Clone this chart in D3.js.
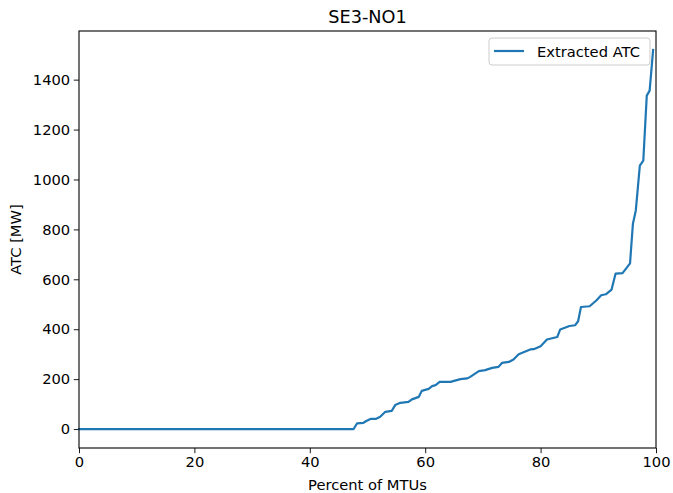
<!DOCTYPE html>
<html><head><meta charset="utf-8">
<script src="https://cdn.jsdelivr.net/npm/d3@7"></script>
<style>body{margin:0;background:#fff}svg{display:block;font-family:"DejaVu Sans",sans-serif}</style>
</head><body><svg id="c" width="673" height="493"></svg>
<script>
const title = "SE3-NO1";
const seriesName = "Extracted ATC";
const xLabel = "Percent of MTUs";
const yLabel = "ATC [MW]";
const xTicks = [0, 20, 40, 60, 80, 100];
const yTicks = [0, 200, 400, 600, 800, 1000, 1200, 1400];
const pct = [0, 47.6, 48.2, 49.3, 49.8, 50.6, 51.5, 52.2, 53.1, 54.2, 54.8, 55.7, 57.1, 57.7, 58.9, 59.4, 60.6, 61.2, 61.8, 62.5, 64.4, 66.1, 67.3, 67.8, 69.3, 70.4, 71.6, 72.7, 73.3, 74.5, 75.3, 76.2, 78.2, 78.8, 80.0, 81.1, 82.9, 83.4, 85.0, 86.0, 86.5, 87.0, 88.5, 89.7, 90.5, 91.3, 92.3, 93.0, 94.2, 95.5, 96.0, 96.5, 97.2, 97.8, 98.4, 98.9, 99.5];
const atc = [0, 0, 23, 25, 32, 41, 41, 49, 69, 73, 96, 105, 109, 119, 129, 153, 161, 172, 176, 189, 189, 200, 203, 209, 232, 236, 245, 249, 265, 269, 279, 300, 319, 320, 332, 359, 369, 399, 413, 416, 432, 489, 492, 516, 536, 540, 559, 623, 625, 664, 823, 876, 1056, 1076, 1336, 1356, 1519];

const svg = d3.select("#c");
const L = 79, R = 656, T = 31, B = 448;
const FS = 14.7;
const yMax = d3.max(atc), pad = yMax * 0.05;
const x = d3.scaleLinear().domain([0, 100]).range([L, R]);
const y = d3.scaleLinear().domain([-pad, yMax + pad]).range([B, T]);

const gx = svg.append("g").attr("transform", `translate(0,${B})`)
  .call(d3.axisBottom(x).tickValues(xTicks).tickSize(5.2).tickPadding(3.6).tickFormat(d3.format("d")));
const gy = svg.append("g").attr("transform", `translate(${L},0)`)
  .call(d3.axisLeft(y).tickValues(yTicks).tickSize(5.2).tickPadding(3.6).tickFormat(d3.format("d")));
[gx, gy].forEach(g => {
  g.select(".domain").remove();
  g.selectAll("line").attr("stroke", "#000").attr("stroke-width", 0.9);
  g.selectAll("text").attr("font-size", FS).attr("fill", "#000").attr("font-family", "DejaVu Sans");
});

svg.append("path").datum(pct.map((p, i) => [p, atc[i]]))
  .attr("fill", "none").attr("stroke", "#1f77b4").attr("stroke-width", 2.2)
  .attr("stroke-linejoin", "round").attr("stroke-linecap", "square")
  .attr("d", d3.line().x(d => x(d[0])).y(d => y(d[1])));

svg.append("rect").attr("x", L).attr("y", T).attr("width", R - L).attr("height", B - T)
  .attr("fill", "none").attr("stroke", "#000").attr("stroke-width", 1.1);

svg.append("text").attr("x", (L + R) / 2).attr("y", 22.5).attr("text-anchor", "middle")
  .attr("font-size", 17.7).text(title);
svg.append("text").attr("x", (L + R) / 2).attr("y", 490).attr("text-anchor", "middle")
  .attr("font-size", FS).text(xLabel);
svg.append("text").attr("transform", `translate(21,${(T + B) / 2}) rotate(-90)`).attr("text-anchor", "middle")
  .attr("font-size", FS).text(yLabel);

const lg = svg.append("g");
lg.append("rect").attr("x", 489).attr("y", 38).attr("width", 161).attr("height", 27).attr("rx", 3)
  .attr("fill", "#fff").attr("fill-opacity", 0.8).attr("stroke", "#ccc").attr("stroke-width", 1);
lg.append("line").attr("x1", 494).attr("x2", 524).attr("y1", 51).attr("y2", 51)
  .attr("stroke", "#1f77b4").attr("stroke-width", 2.2);
lg.append("text").attr("x", 537).attr("y", 56.5).attr("font-size", FS).text(seriesName);
</script></body></html>
